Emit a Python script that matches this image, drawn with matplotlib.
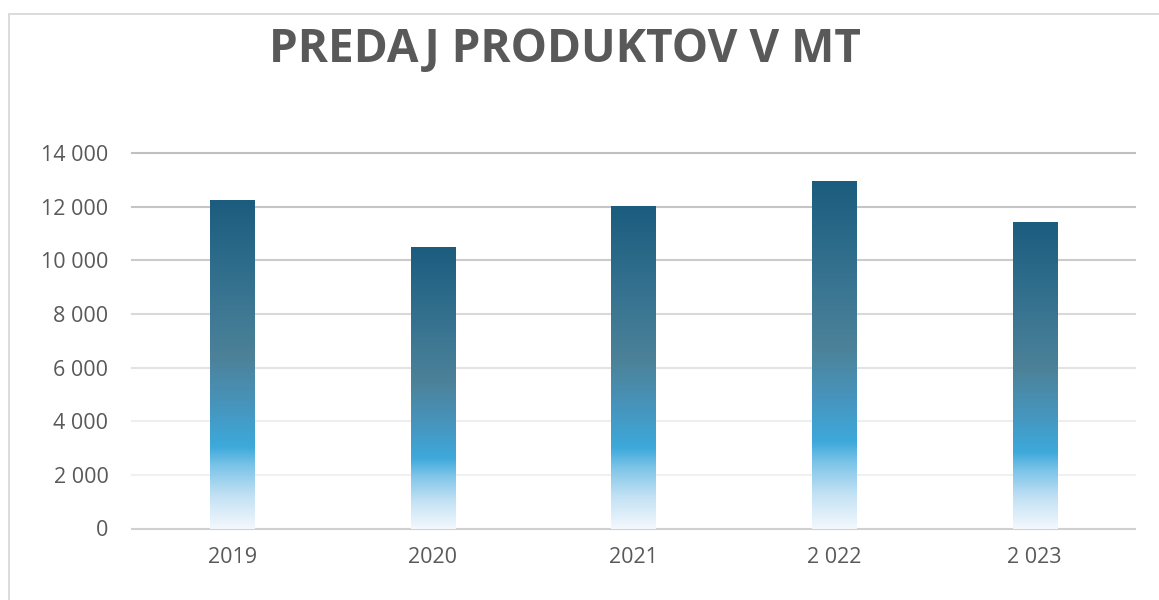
import matplotlib
matplotlib.use("Agg")
import matplotlib.pyplot as plt
import numpy as np
from matplotlib.colors import LinearSegmentedColormap
from matplotlib.patches import Rectangle

categories = ["2019", "2020", "2021", "2 022", "2 023"]
values = [12250, 10480, 12010, 12945, 11420]
y_ticks = [0, 2000, 4000, 6000, 8000, 10000, 12000, 14000]
y_tick_labels = ["0", "2 000", "4 000", "6 000", "8 000", "10 000", "12 000", "14 000"]
title = "PREDAJ PRODUKTOV V MT"

W, H = 1159, 600
fig = plt.figure(figsize=(W / 100, H / 100), dpi=100)
fig.patch.set_facecolor("white")

# outer border (chart area frame)
fig.patches.append(Rectangle((9 / W, -0.1), 1.2, 1.1 - 14 / H, transform=fig.transFigure,
                             fill=False, edgecolor="#D9D9D9", linewidth=1.3, zorder=0))

ax = fig.add_axes([132 / W, 1 - 528.5 / H, (1135 - 132) / W, (528.5 - 153) / H])
ax.set_xlim(-0.5, len(categories) - 0.5)
ax.set_ylim(0, 14000)

grid_colors = ["#D0D0D0", "#F0F0F0", "#EEEEEE", "#E3E3E3", "#D9D9D9", "#CBCBCB", "#C5C5C5", "#C0C0C0"]
for t, c in zip(y_ticks, grid_colors):
    ax.axhline(t, color=c, linewidth=1.5, zorder=1, clip_on=False)

cmap = LinearSegmentedColormap.from_list("grad", [
    (0.00, "#F3F8FD"),
    (0.10, "#C2E1F4"),
    (0.19, "#7CC4E8"),
    (0.25, "#3DA9DB"),
    (0.38, "#4794BC"),
    (0.52, "#4C8299"),
    (0.75, "#34718F"),
    (1.00, "#1C5C7E"),
])

x = np.arange(len(categories))
bars = ax.bar(x, values, width=0.22, color="none", edgecolor="none", zorder=2)
grad = np.linspace(0, 1, 256).reshape(-1, 1)
for b in bars:
    x0, y0 = b.get_x(), b.get_y()
    ax.imshow(grad, cmap=cmap, origin="lower", aspect="auto", interpolation="bilinear",
              extent=(x0, x0 + b.get_width(), y0, y0 + b.get_height()), zorder=3)
ax.set_xlim(-0.5, len(categories) - 0.5)
ax.set_ylim(0, 14000)

ax.set_xticks(x)
ax.set_xticklabels(categories)
ax.set_yticks(y_ticks)
ax.set_yticklabels(y_tick_labels)
for s in ax.spines.values():
    s.set_visible(False)
ax.tick_params(axis="both", length=0, labelcolor="#595959", labelsize=15.5)
ax.tick_params(axis="y", pad=17)
ax.tick_params(axis="x", pad=13)
for lab in ax.get_xticklabels() + ax.get_yticklabels():
    lab.set_family("Open Sans")

fig.text(565 / W, 1 - 62.5 / H, title, ha="center", va="baseline", fontsize=33,
         fontweight="bold", color="#595959", family="Open Sans")

fig.savefig("out.png", dpi=100, facecolor="white")
